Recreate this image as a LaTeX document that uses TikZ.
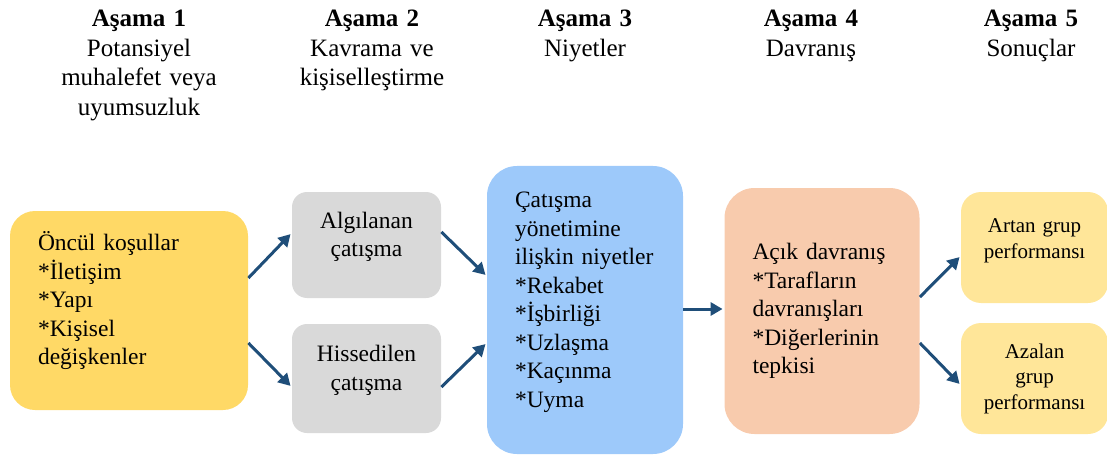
\documentclass[tikz,border=0pt]{standalone}
\usepackage{fontspec}
\setmainfont{Liberation Serif}
\usetikzlibrary{arrows.meta,positioning}
\definecolor{gold}{RGB}{255,217,102}
\definecolor{grau}{RGB}{217,217,217}
\definecolor{himmel}{RGB}{157,201,250}
\definecolor{lachs}{RGB}{248,203,173}
\definecolor{hellgold}{RGB}{255,230,153}
\definecolor{pfeil}{RGB}{31,78,121}
\tikzset{
  every picture/.style={line width=0.8pt, line join=round,
    >={Triangle[length=12pt,width=13pt]}},
  % Kopfzeilen
  head/.style={align=center, text width=230pt, inner sep=0pt, anchor=base,
    font=\fontsize{25}{29.5}\selectfont},
  % Kästen
  box/.style={fill=#1, draw=none, inner xsep=28pt, inner ysep=0pt, align=left,
    font=\fontsize{23.5}{28.5}\selectfont},
  small/.style={align=center, inner xsep=4pt, font=\fontsize{21}{25.5}\selectfont},
  % Text etwas nach oben
  lift/.style={text height=0pt},
  % Pfeile
  conn/.style={pfeil, line width=3pt, ->, shorten >=1.5pt},
}
\begin{document}
\begin{tikzpicture}[x=1pt, y=-1pt]
  \useasboundingbox (0,0) rectangle (1107,457);
  % Kopfzeilen
  \node[head] (h1) at (139,27) {\textbf{Aşama 1}\\Potansiyel\\muhalefet veya\\uyumsuzluk};
  \node[head] (h2) at (372,27) {\textbf{Aşama 2}\\Kavrama ve\\kişiselleştirme};
  \node[head] (h3) at (585,27) {\textbf{Aşama 3}\\Niyetler};
  \node[head] (h4) at (811,27) {\textbf{Aşama 4}\\Davranış};
  \node[head] (h5) at (1031,27) {\textbf{Aşama 5}\\Sonuçlar};
  % Kästen
  \node[box=gold, rounded corners=25pt, lift, text width=182pt,
    minimum width=238pt, minimum height=199pt] (b1) at (129,310.5)
    {Öncül koşullar\\{}*İletişim\\{}*Yapı\\{}*Kişisel\\değişkenler};
  \node[box=grau, rounded corners=15pt, lift, align=center, inner xsep=4pt,
    text width=141pt, minimum width=149pt, minimum height=106pt] (b2a) at (366.5,245)
    {Algılanan\\çatışma};
  \node[box=grau, rounded corners=15pt, lift, align=center, inner xsep=4pt,
    text width=141pt, minimum width=149pt, minimum height=109pt] (b2b) at (366.5,378.5)
    {Hissedilen\\çatışma};
  \node[box=himmel, rounded corners=30pt, lift, text width=140pt,
    minimum width=196pt, minimum height=288pt] (b3) at (585,310)
    {Çatışma\\yönetimine\\ilişkin~niyetler\\{}*Rekabet\\{}*İşbirliği\\{}*Uzlaşma\\{}*Kaçınma\\{}*Uyma};
  \node[box=lachs, rounded corners=30pt, text width=139pt,
    minimum width=194pt, minimum height=246pt] (b4) at (822,311)
    {Açık davranış\\{}*Tarafların\\davranışları\\{}*Diğerlerinin\\tepkisi};
  \node[box=hellgold, small, rounded corners=20pt, lift, text width=139pt,
    minimum width=147pt, minimum height=111pt] (b5a) at (1034.5,247.5)
    {Artan grup\\performansı};
  \node[box=hellgold, small, rounded corners=20pt, text width=139pt,
    minimum width=147pt, minimum height=111pt] (b5b) at (1034.5,378.5)
    {Azalan\\grup\\performansı};
  % Pfeile
  \draw[conn] ([yshift=32.5pt]b1.east) -- ([yshift=12pt]b2a.west);
  \draw[conn] ([yshift=-32.5pt]b1.east) -- ([yshift=-8.5pt]b2b.west);
  \draw[conn] ([yshift=13pt]b2a.east) -- ([yshift=34pt]b3.west);
  \draw[conn] ([yshift=-8.5pt]b2b.east) -- ([yshift=-33pt]b3.west);
  \draw[conn] ([yshift=1pt]b3.east) -- ([yshift=2pt]b4.west);
  \draw[conn] ([yshift=14pt]b4.east) -- ([yshift=-8.5pt]b5a.west);
  \draw[conn] ([yshift=-32pt]b4.east) -- ([yshift=-6.5pt]b5b.west);
\end{tikzpicture}
\end{document}
